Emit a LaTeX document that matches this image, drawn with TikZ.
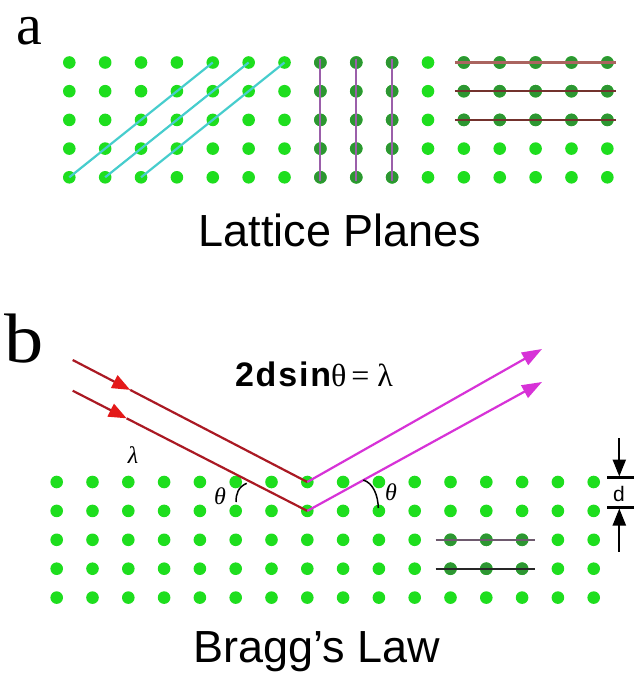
\documentclass[tikz,border=0pt]{standalone}
\usepackage{graphicx}
\usepackage{fontspec}
\setmainfont{Liberation Serif}
\setsansfont{Liberation Sans}
\usetikzlibrary{arrows.meta,calc}
\definecolor{dotgreen}{RGB}{30,222,30}
\definecolor{dotdark}{RGB}{45,150,50}
\definecolor{cyanline}{RGB}{70,205,205}
\definecolor{violetline}{RGB}{155,95,170}
\definecolor{brownline}{RGB}{115,50,45}
\definecolor{brownlight}{RGB}{170,100,95}
\definecolor{rayred}{RGB}{170,25,35}
\definecolor{tipred}{RGB}{228,25,25}
\definecolor{raymag}{RGB}{215,50,215}
\definecolor{grayline}{RGB}{110,90,110}
\begin{document}
\begin{tikzpicture}[x=1pt,y=-1pt,
  dotb/.style={fill=dotgreen},
  dotd/.style={fill=dotdark},
  cyanl/.style={draw=cyanline,line width=2.2pt},
  violetl/.style={draw=violetline,line width=2.2pt},
  brownl/.style={draw=brownline,line width=2.2pt},
  redray/.style={draw=rayred,line width=2.2pt},
  magray/.style={draw=raymag,line width=2.2pt},
  redtip/.style={-{Triangle[width=14pt,length=18pt,color=tipred]}},
  magtip/.style={-{Triangle[width=14pt,length=20pt,color=raymag]}},
  blacktip/.style={-{Triangle[width=13pt,length=17pt,color=black]}},
  anglearc/.style={draw=black,line width=1.5pt},
  lbl/.style={inner sep=0pt}]
\useasboundingbox (0,0) rectangle (634,675);
\fill[white] (0,0) rectangle (634,675);

% lattice coordinates
\foreach \c in {0,...,15}{\foreach \r in {0,...,4}{
  \coordinate (a-\c-\r) at ({69.3+35.87*\c},{62.5+28.7*\r});
  \coordinate (b-\c-\r) at ({56.7+35.8*\c},{482+28.9*\r});
}}

% dots
\foreach \c in {0,...,15}{\foreach \r in {0,...,4}{
  \fill[dotb] (a-\c-\r) circle[radius=6.3];
  \fill[dotb] (b-\c-\r) circle[radius=6.3];
}}
\foreach \c in {7,8,9}{\foreach \r in {0,...,4}{\fill[dotd] (a-\c-\r) circle[radius=6.3];}}
\foreach \c in {11,...,15}{\foreach \r in {0,1,2}{\fill[dotd] (a-\c-\r) circle[radius=6.3];}}
\foreach \c in {11,12,13}{\foreach \r in {2,3}{\fill[dotd] (b-\c-\r) circle[radius=6.3];}}

% panel a planes
\draw[cyanl] (a-0-4) -- (a-4-0);
\draw[cyanl] (a-1-4) -- (a-5-0);
\draw[cyanl] (a-2-4) -- (a-6-0);
\foreach \c in {7,8,9}{\draw[violetl] ([yshift=4pt]a-\c-0) -- ([yshift=-4pt]a-\c-4);}
\draw[draw=brownlight,line width=2.2pt] ([xshift=-9pt]a-11-0) -- ([xshift=9pt]a-15-0);
\draw[brownl] ([xshift=-9pt]a-11-1) -- ([xshift=9pt]a-15-1);
\draw[brownl] ([xshift=-9pt]a-11-2) -- ([xshift=9pt]a-15-2);

% panel b planes
\draw[draw=grayline,line width=2.2pt] ([xshift=-15pt]b-11-2) -- ([xshift=13pt]b-13-2);
\draw[draw=black!85,line width=2.2pt] ([xshift=-15pt]b-11-3) -- ([xshift=13pt]b-13-3);

% rays
\coordinate (r1s) at (72.7,360);
\coordinate (r2s) at (72.7,390.7);
\coordinate (r1m) at ($(r1s)!0.245!(b-7-0)$);
\coordinate (r2m) at ($(r2s)!0.23!(b-7-1)$);
\coordinate (m1e) at (542,349);
\coordinate (m2e) at (542,382);
\draw[redray,redtip] (r1s) -- (r1m);
\draw[redray] (r1m) -- (b-7-0);
\draw[redray,redtip] (r2s) -- (r2m);
\draw[redray] (r2m) -- (b-7-1);
\draw[magray,magtip] (b-7-0) -- (m1e);
\draw[magray,magtip] (b-7-1) -- (m2e);

% angle arcs
\draw[anglearc] (246.7,483.3) .. controls (238,487) and (236,494) .. (236,502);
\draw[anglearc] (363.3,480) .. controls (373,483) and (378,495) .. (378.3,508);

% d marker
\coordinate (dt1) at (619.3,438);
\coordinate (dt2) at (619.3,476.5);
\coordinate (db1) at (619.3,551.7);
\coordinate (db2) at (619.3,508.5);
\coordinate (bar1l) at (607,477.3);
\coordinate (bar1r) at (634,477.3);
\coordinate (bar2l) at (607,507.3);
\coordinate (bar2r) at (634,507.3);
\draw[line width=2.2pt,blacktip] (dt1) -- (dt2);
\draw[line width=2.2pt,blacktip] (db1) -- (db2);
\draw[line width=2.6pt] (bar1l) -- (bar1r);
\draw[line width=2.6pt] (bar2l) -- (bar2r);

% labels
\node[lbl,anchor=base west,text height=28pt,text depth=0pt,font=\fontsize{58}{64}\selectfont] (la) at (16,44) {a};
\node[lbl,anchor=base west,font=\fontsize{70}{78}\selectfont] (lb) at (4,362) {\scalebox{1.12}[1]{b}};
\node[lbl,anchor=base,font=\sffamily\fontsize{45}{50}\selectfont] (lp) at (340,246.7) {Lattice Planes};
\node[lbl,anchor=base,font=\sffamily\fontsize{45}{50}\selectfont] (bl) at (316.5,662) {Bragg's Law};
\node[lbl,anchor=base] (eq) at (314,386.7) {{\sffamily\bfseries\fontsize{34}{36}\selectfont 2\kern1.8pt d\kern1.8pt s\kern1.8pt i\kern1.8pt n}{\fontsize{32}{34}\selectfont θ\kern5pt=\kern8ptλ}};
\node[lbl,font=\itshape\fontsize{24}{26}\selectfont] (th1) at (220,496) {θ};
\node[lbl,font=\itshape\fontsize{24}{26}\selectfont] (th2) at (391,492) {θ};
\node[lbl,font=\itshape\fontsize{24}{26}\selectfont] (lam) at (133,455) {λ};
\node[lbl,font=\sffamily\fontsize{21}{24}\selectfont] (dl) at (619,494) {d};
\end{tikzpicture}
\end{document}
